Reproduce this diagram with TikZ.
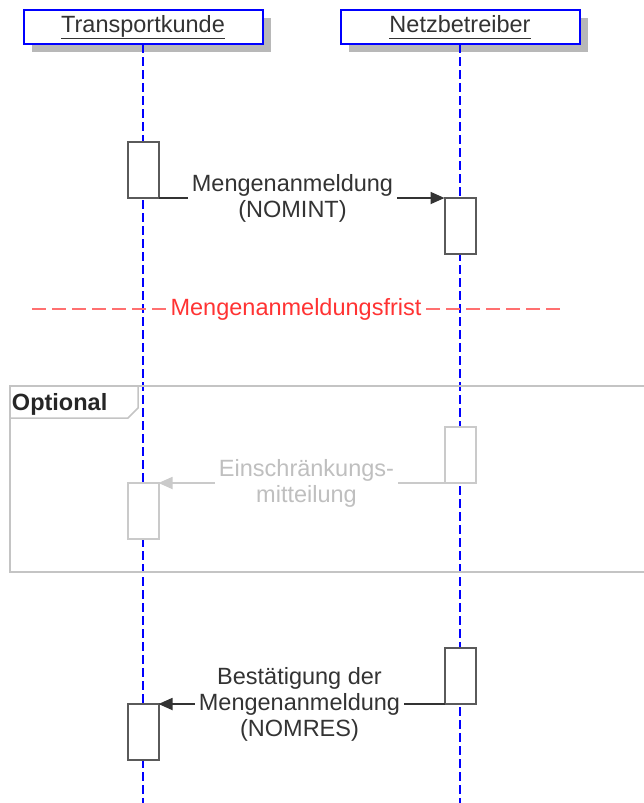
\documentclass[tikz,border=0pt]{standalone}
\usepackage{fontspec}
\setmainfont{Liberation Sans}
\usetikzlibrary{arrows.meta}

\definecolor{lifeblue}{HTML}{0000FF}
\definecolor{txtgray}{HTML}{333333}
\definecolor{boxgray}{HTML}{5A5A5A}
\definecolor{shadowgray}{HTML}{B8B8B8}
\definecolor{fadegray}{HTML}{CACACA}
\definecolor{fadetext}{HTML}{BFBFBF}
\definecolor{framegray}{HTML}{C4C4C4}
\definecolor{fristred}{HTML}{FF3333}
\definecolor{fristline}{HTML}{FF7070}

\tikzset{
  x=1pt, y=-1pt,
  every node/.style={font=\fontsize{23.5}{26}\selectfont, inner sep=0pt, outer sep=0pt},
  actor/.style={draw=lifeblue, line width=2pt, fill=white, minimum width=239pt,
    minimum height=34pt, text=txtgray},
  actorshadow/.style={fill=shadowgray, minimum width=239pt, minimum height=34pt},
  lifeline/.style={draw=lifeblue, line width=1.8pt, dash pattern=on 9pt off 4pt},
  activation/.style={draw=boxgray, line width=2pt, fill=white, minimum width=31pt,
    minimum height=56pt},
  fadedactivation/.style={activation, draw=fadegray},
  msg/.style={color=txtgray, line width=1.8pt,
    -{Triangle[length=14pt,width=12pt]}},
  fadedmsg/.style={color=fadegray, line width=1.8pt,
    -{Triangle[length=14pt,width=12pt]}},
  msglabel/.style={fill=white, align=center, text=txtgray, inner xsep=4pt, inner ysep=2pt},
  fadedlabel/.style={msglabel, text=fadetext},
  fristdash/.style={color=fristline, line width=2.2pt, dash pattern=on 14pt off 6pt},
  framebox/.style={color=framegray, line width=1.5pt},
}

\begin{document}
\begin{tikzpicture}
\useasboundingbox (0,0) rectangle (643,803);

% participants with drop shadows
\node[actorshadow] at (151,35) {};
\node[actorshadow] at (468,35) {};
\node[actor] (tk) at (143,27) {\raisebox{-4.5pt}{\underline{Transportkunde\vphantom{p}}}};
\node[actor] (nb) at (460,27) {\raisebox{-4.5pt}{\underline{Netzbetreiber\vphantom{p}}}};

% ends of the lifelines
\coordinate (tkend) at (143,803);
\coordinate (nbend) at (460,803);

% lifelines
\draw[lifeline] (tk.south) -- (tkend);
\draw[lifeline] (nb.south) -- (nbend);

% deadline marker
\node[text=fristred] (frist) at (296,309) {Mengenanmeldungsfrist};
\coordinate (fristl) at (32,309);
\coordinate (fristr) at (560,309);
\draw[fristdash] (fristl) -- ([xshift=-5pt]frist.west);
\draw[fristdash] ([xshift=5pt]frist.east) -- (fristr);

% optional fragment frame and its tab
\coordinate (fa) at (10,386);
\coordinate (fb) at (650,572);
\draw[framebox] (fa) rectangle (fb);
\coordinate (taba) at (10,418);
\coordinate (tabb) at (128,418);
\coordinate (tabc) at (138,408);
\coordinate (tabd) at (138,386);
\draw[framebox] (taba) -- (tabb) -- (tabc) -- (tabd);
\node[anchor=west, font=\fontsize{23.5}{26}\selectfont\bfseries, text=black!85] (opt) at (12,404) {Optional};

% NOMINT
\node[activation] (a1) at (143,170) {};
\node[activation] (a2) at (460,226) {};
\draw[msg] (a1.south east) -- node[msglabel, xshift=-9pt] {Mengenanmeldung\\(NOMINT)} (a2.north west);

% optional restriction notice
\node[fadedactivation] (f2) at (460,455) {};
\node[fadedactivation] (f1) at (143,511) {};
\draw[fadedmsg] (f2.south west) -- node[fadedlabel, xshift=5pt] {Einschränkungs-\\mitteilung} (f1.north east);

% NOMRES
\node[activation] (r2) at (460,676) {};
\node[activation] (r1) at (143,732) {};
\draw[msg] (r2.south west) -- node[msglabel, xshift=-2pt] {Bestätigung der\\Mengenanmeldung\\(NOMRES)} (r1.north east);
\end{tikzpicture}
\end{document}
